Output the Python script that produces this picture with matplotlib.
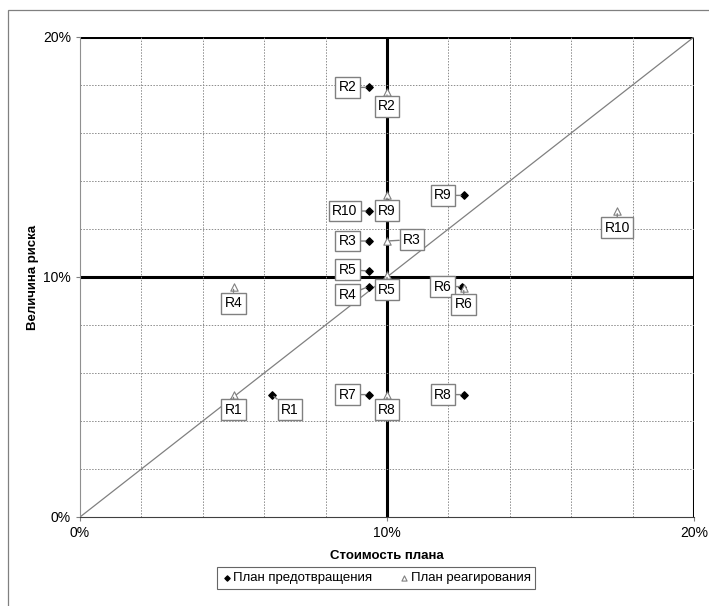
import matplotlib.pyplot as plt
from matplotlib.patches import Rectangle
from matplotlib.ticker import MultipleLocator, PercentFormatter

plt.rcParams['font.family'] = ['Liberation Sans', 'DejaVu Sans']

# План предотвращения (ромбы)
prev_names = ['R1', 'R2', 'R3', 'R4', 'R5', 'R6', 'R7', 'R8', 'R9', 'R10']
prev_cost = [6.25, 9.4, 9.4, 9.4, 9.4, 12.45, 9.4, 12.5, 12.5, 9.4]
prev_risk = [5.1, 17.9, 11.5, 9.6, 10.25, 9.6, 5.1, 5.1, 13.4, 12.75]

# План реагирования (треугольники)
resp_names = ['R1', 'R2', 'R3', 'R4', 'R5', 'R6', 'R8', 'R9', 'R10']
resp_cost = [5.0, 10.0, 10.0, 5.0, 10.0, 12.5, 10.0, 10.0, 17.5]
resp_risk = [5.1, 17.7, 11.5, 9.6, 10.1, 9.55, 5.1, 13.4, 12.75]

# смещения подписей в пунктах
prev_off = [(13, -11), (-15, 0), (-15, 0), (-15, -6), (-15, 1), (-14, 0),
            (-15, 0), (-15, 0), (-15, 0), (-17, 0)]
resp_off = [(0, -11), (0, -10), (18, 1), (0, -12), (0, -11), (0, -12),
            (0, -11), (0, -11), (0, -12)]

fig = plt.figure(figsize=(7.09, 6.06), dpi=100)
fig.patches.append(Rectangle((8 / 709, -0.1), 1.2, 1 - 10 / 606 + 0.1,
                             transform=fig.transFigure, fill=False,
                             edgecolor='#808080', linewidth=0.9))
ax = fig.add_axes([80 / 709, 89 / 606, 614 / 709, 480 / 606])

ax.set_xlim(0, 20)
ax.set_ylim(0, 20)
ax.xaxis.set_major_locator(MultipleLocator(10))
ax.yaxis.set_major_locator(MultipleLocator(10))
ax.xaxis.set_minor_locator(MultipleLocator(2))
ax.yaxis.set_minor_locator(MultipleLocator(2))
ax.xaxis.set_major_formatter(PercentFormatter(decimals=0))
ax.yaxis.set_major_formatter(PercentFormatter(decimals=0))
ax.tick_params(which='major', length=3, width=0.8, color='#808080', labelsize=10)
ax.tick_params(which='minor', length=0)

ax.grid(which='minor', color='#8c8c8c', linestyle=(0, (1.5, 1.5)), linewidth=0.7)
for v in (10, 20):
    ax.axvline(v, color='black', linewidth=2.2, zorder=1)
    ax.axhline(v, color='black', linewidth=2.2, zorder=1)
ax.spines['left'].set_color('#909090')
ax.spines['bottom'].set_color('#404040')
ax.spines['top'].set_visible(False)
ax.spines['right'].set_visible(False)

ax.plot([0, 20], [0, 20], color='#808080', linewidth=0.9, zorder=2)

ax.scatter(prev_cost, prev_risk, marker='D', s=14, color='black', zorder=4,
           label='План предотвращения')
ax.scatter(resp_cost, resp_risk, marker='^', s=28, facecolor='white',
           edgecolor='#808080', linewidth=0.8, zorder=4,
           label='План реагирования')

box = dict(boxstyle='square,pad=0.25', facecolor='white', edgecolor='#808080',
           linewidth=1.0)
arrow = dict(arrowstyle='-', color='#808080', linewidth=1.0, shrinkA=0, shrinkB=2)
for n, x, y, off in zip(prev_names, prev_cost, prev_risk, prev_off):
    ax.annotate(n, (x, y), xytext=off, textcoords='offset points',
                ha='center', va='center', fontsize=10, bbox=box,
                arrowprops=arrow, zorder=5)
for n, x, y, off in zip(resp_names, resp_cost, resp_risk, resp_off):
    ax.annotate(n, (x, y), xytext=off, textcoords='offset points',
                ha='center', va='center', fontsize=10, bbox=box,
                arrowprops=arrow, zorder=5)

ax.set_xlabel('Стоимость плана', fontsize=9.5, fontweight='bold')
ax.set_ylabel('Величина риска', fontsize=9.5, fontweight='bold')
ax.xaxis.set_label_coords(0.5, -0.069)
ax.yaxis.set_label_coords(-0.066, 0.5)

leg = fig.legend(loc='center', bbox_to_anchor=(376 / 709, 1 - 578 / 606),
                 ncol=2, fontsize=9.5, frameon=True, fancybox=False,
                 edgecolor='#404040', handletextpad=0.1, columnspacing=2.0,
                 handlelength=0.8, borderpad=0.35, markerscale=0.7)
leg.get_frame().set_linewidth(0.8)

fig.savefig('out.png', dpi=100)
